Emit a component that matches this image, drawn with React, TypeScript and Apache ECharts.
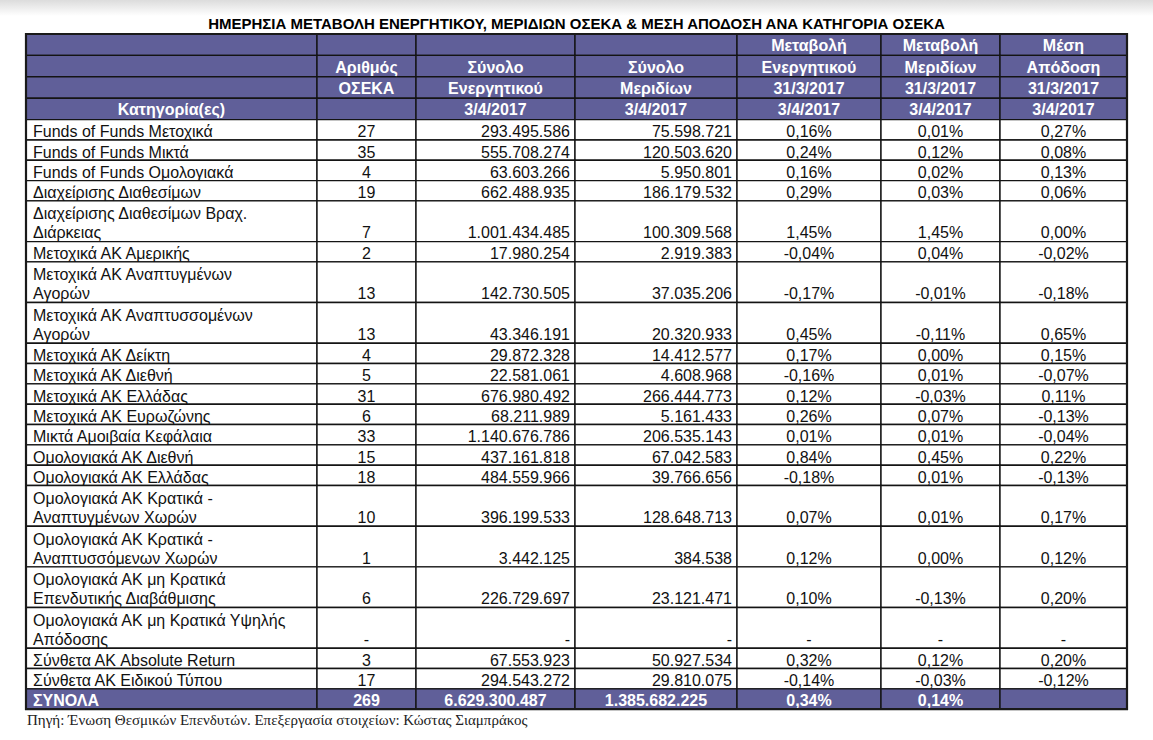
import React, { useEffect, useRef } from 'react';
import * as echarts from 'echarts';

const chartTitle =
  'ΗΜΕΡΗΣΙΑ ΜΕΤΑΒΟΛΗ ΕΝΕΡΓΗΤΙΚΟΥ, ΜΕΡΙΔΙΩΝ ΟΣΕΚΑ & ΜΕΣΗ ΑΠΟΔΟΣΗ ΑΝΑ ΚΑΤΗΓΟΡΙΑ ΟΣΕΚΑ';
const sourceNote =
  'Πηγή: Ένωση Θεσμικών Επενδυτών. Επεξεργασία στοιχείων: Κώστας Σιαμπράκος';

const headerRows: string[][] = [
  ['', '', '', '', 'Μεταβολή', 'Μεταβολή', 'Μέση'],
  ['', 'Αριθμός', 'Σύνολο', 'Σύνολο', 'Ενεργητικού', 'Μεριδίων', 'Απόδοση'],
  ['', 'ΟΣΕΚΑ', 'Ενεργητικού', 'Μεριδίων', '31/3/2017', '31/3/2017', '31/3/2017'],
  ['Κατηγορία(ες)', '', '3/4/2017', '3/4/2017', '3/4/2017', '3/4/2017', '3/4/2017'],
];

const categories: string[] = [
  'Funds of Funds Μετοχικά',
  'Funds of Funds Μικτά',
  'Funds of Funds Ομολογιακά',
  'Διαχείρισης Διαθεσίμων',
  'Διαχείρισης Διαθεσίμων Βραχ.\nΔιάρκειας',
  'Μετοχικά ΑΚ Αμερικής',
  'Μετοχικά ΑΚ Αναπτυγμένων\nΑγορών',
  'Μετοχικά ΑΚ Αναπτυσσομένων\nΑγορών',
  'Μετοχικά ΑΚ Δείκτη',
  'Μετοχικά ΑΚ Διεθνή',
  'Μετοχικά ΑΚ Ελλάδας',
  'Μετοχικά ΑΚ Ευρωζώνης',
  'Μικτά Αμοιβαία Κεφάλαια',
  'Ομολογιακά ΑΚ Διεθνή',
  'Ομολογιακά ΑΚ Ελλάδας',
  'Ομολογιακά ΑΚ Κρατικά -\nΑναπτυγμένων Χωρών',
  'Ομολογιακά ΑΚ Κρατικά -\nΑναπτυσσόμενων Χωρών',
  'Ομολογιακά ΑΚ μη Κρατικά\nΕπενδυτικής Διαβάθμισης',
  'Ομολογιακά ΑΚ μη Κρατικά Υψηλής\nΑπόδοσης',
  'Σύνθετα ΑΚ Absolute Return',
  'Σύνθετα ΑΚ Ειδικού Τύπου',
];

const fundCounts: string[] = [
  '27', '35', '4', '19', '7', '2', '13', '13', '4', '5', '31', '6', '33', '15', '18', '10', '1', '6', '-', '3', '17',
];

const totalAssets: string[] = [
  '293.495.586', '555.708.274', '63.603.266', '662.488.935', '1.001.434.485', '17.980.254',
  '142.730.505', '43.346.191', '29.872.328', '22.581.061', '676.980.492', '68.211.989',
  '1.140.676.786', '437.161.818', '484.559.966', '396.199.533', '3.442.125', '226.729.697',
  '-', '67.553.923', '294.543.272',
];

const totalUnits: string[] = [
  '75.598.721', '120.503.620', '5.950.801', '186.179.532', '100.309.568', '2.919.383',
  '37.035.206', '20.320.933', '14.412.577', '4.608.968', '266.444.773', '5.161.433',
  '206.535.143', '67.042.583', '39.766.656', '128.648.713', '384.538', '23.121.471',
  '-', '50.927.534', '29.810.075',
];

const assetChange: string[] = [
  '0,16%', '0,24%', '0,16%', '0,29%', '1,45%', '-0,04%', '-0,17%', '0,45%', '0,17%', '-0,16%',
  '0,12%', '0,26%', '0,01%', '0,84%', '-0,18%', '0,07%', '0,12%', '0,10%', '-', '0,32%', '-0,14%',
];

const unitsChange: string[] = [
  '0,01%', '0,12%', '0,02%', '0,03%', '1,45%', '0,04%', '-0,01%', '-0,11%', '0,00%', '0,01%',
  '-0,03%', '0,07%', '0,01%', '0,45%', '0,01%', '0,01%', '0,00%', '-0,13%', '-', '0,12%', '-0,03%',
];

const avgReturn: string[] = [
  '0,27%', '0,08%', '0,13%', '0,06%', '0,00%', '-0,02%', '-0,18%', '0,65%', '0,15%', '-0,07%',
  '0,11%', '-0,13%', '-0,04%', '0,22%', '-0,13%', '0,17%', '0,12%', '0,20%', '-', '0,20%', '-0,12%',
];

const totalsRow: string[] = ['ΣΥΝΟΛΑ', '269', '6.629.300.487', '1.385.682.225', '0,34%', '0,14%', ''];

// ---- layout (sizes / styles only) ----
const COL_WIDTHS = [291, 99, 159, 162, 144, 119, 127];
const DATA_ALIGN = ['left', 'center', 'right', 'right', 'center', 'center', 'center'];
const TOTAL_ALIGN = ['left', 'center', 'center', 'center', 'center', 'center', 'center'];
const HEADER_ROW_H = 21.4;
const LINE_H = 20.33;
const HEAD_BG = '#605f99';
const FONT = '"Liberation Sans", Arial, sans-serif';
const BODY_SIZE = 16;

type Meta = {
  text: string;
  align: string;
  kind: 'header' | 'data' | 'total' | 'frame';
  col: number;
  lines: number;
};

function buildCells() {
  const data: number[][] = [];
  const meta: Meta[] = [];
  const colEdges = [0];
  COL_WIDTHS.forEach((w) => colEdges.push(colEdges[colEdges.length - 1] + w));
  let y = 0;
  headerRows.forEach((row) => {
    row.forEach((t, c) => {
      data.push([colEdges[c], y, colEdges[c + 1], y + HEADER_ROW_H]);
      meta.push({ text: t, align: 'center', kind: 'header', col: c, lines: 1 });
    });
    y += HEADER_ROW_H;
  });
  categories.forEach((cat, i) => {
    const lines = cat.split('\n').length;
    const h = lines * LINE_H;
    const cells = [cat, fundCounts[i], totalAssets[i], totalUnits[i], assetChange[i], unitsChange[i], avgReturn[i]];
    cells.forEach((t, c) => {
      data.push([colEdges[c], y, colEdges[c + 1], y + h]);
      meta.push({ text: t, align: DATA_ALIGN[c], kind: 'data', col: c, lines });
    });
    y += h;
  });
  totalsRow.forEach((t, c) => {
    data.push([colEdges[c], y, colEdges[c + 1], y + LINE_H]);
    meta.push({ text: t, align: TOTAL_ALIGN[c], kind: 'total', col: c, lines: 1 });
  });
  y += LINE_H;
  data.push([0, 0, colEdges[colEdges.length - 1], y]);
  meta.push({ text: '', align: 'center', kind: 'frame', col: -1, lines: 1 });
  return { data, meta, width: colEdges[colEdges.length - 1], height: y };
}

export default function App() {
  const ref = useRef<HTMLDivElement>(null);
  useEffect(() => {
    if (!ref.current) return;
    const chart = echarts.init(ref.current, undefined, { renderer: 'svg' });
    const { data, meta, width, height } = buildCells();
    const option: any = {
      animation: false,
      backgroundColor: '#ffffff',
      title: [
        {
          text: chartTitle,
          left: 'center',
          top: 16,
          padding: 0,
          textStyle: { fontFamily: FONT, fontWeight: 'bold', fontSize: 15, color: '#000' },
        },
        {
          text: sourceNote,
          left: 27,
          top: 712,
          padding: 0,
          textStyle: {
            fontFamily: '"Liberation Serif", "Times New Roman", serif',
            fontWeight: 'normal',
            fontSize: 15,
            color: '#222',
          },
        },
      ],
      graphic: [
        {
          type: 'rect',
          left: 0,
          top: 0,
          z: -1,
          shape: { width: 1153, height: 16 },
          style: {
            fill: new echarts.graphic.LinearGradient(0, 0, 0, 1, [
              { offset: 0, color: '#dcdcdc' },
              { offset: 1, color: '#ffffff' },
            ]),
          },
        },
      ],
      grid: { left: 26, top: 34, width: width, height: height, show: false },
      xAxis: { type: 'value', min: 0, max: width, show: false },
      yAxis: { type: 'value', min: 0, max: height, inverse: true, show: false },
      series: [
        {
          type: 'custom',
          clip: false,
          encode: { x: [0, 2], y: [1, 3] },
          data: data,
          renderItem: (params: any, api: any) => {
            const m = meta[params.dataIndex];
            const p0 = api.coord([api.value(0), api.value(1)]);
            const p1 = api.coord([api.value(2), api.value(3)]);
            const x = p0[0];
            const y = p0[1];
            const w = p1[0] - p0[0];
            const h = p1[1] - p0[1];
            if (m.kind === 'frame') {
              return {
                type: 'rect',
                z2: 10,
                shape: { x, y, width: w, height: h },
                style: { fill: 'none', stroke: '#1a1a1a', lineWidth: 2.2 },
              };
            }
            const filled = m.kind === 'header' || m.kind === 'total';
            const children: any[] = [
              {
                type: 'rect',
                shape: { x, y, width: w, height: h },
                style: { fill: filled ? HEAD_BG : '#ffffff', stroke: '#141414', lineWidth: 1.4 },
              },
            ];
            if (m.text) {
              let tx = x + w / 2;
              if (m.align === 'left') tx = x + 7;
              else if (m.align === 'right') tx = x + w - 5;
              const dy = m.kind === 'data' ? 2 : 1;
              let ty: number;
              if (m.col === 0 || m.lines === 1) ty = y + h / 2 + dy;
              else ty = y + h - h / m.lines / 2 + dy - 0.5;
              children.push({
                type: 'text',
                z2: 5,
                style: {
                  x: tx,
                  y: ty,
                  text: m.text,
                  align: m.align,
                  verticalAlign: 'middle',
                  fontFamily: FONT,
                  fontSize: BODY_SIZE,
                  lineHeight: 19,
                  fontWeight: filled ? 'bold' : 'normal',
                  fill: filled ? '#ffffff' : '#111111',
                },
              });
            }
            return { type: 'group', children };
          },
        },
      ],
    };
    chart.setOption(option);
    return () => chart.dispose();
  }, []);
  return (
    <div
      ref={ref}
      style={{ position: 'fixed', left: 0, top: 0, width: 1153, height: 740, background: '#fff' }}
    />
  );
}
